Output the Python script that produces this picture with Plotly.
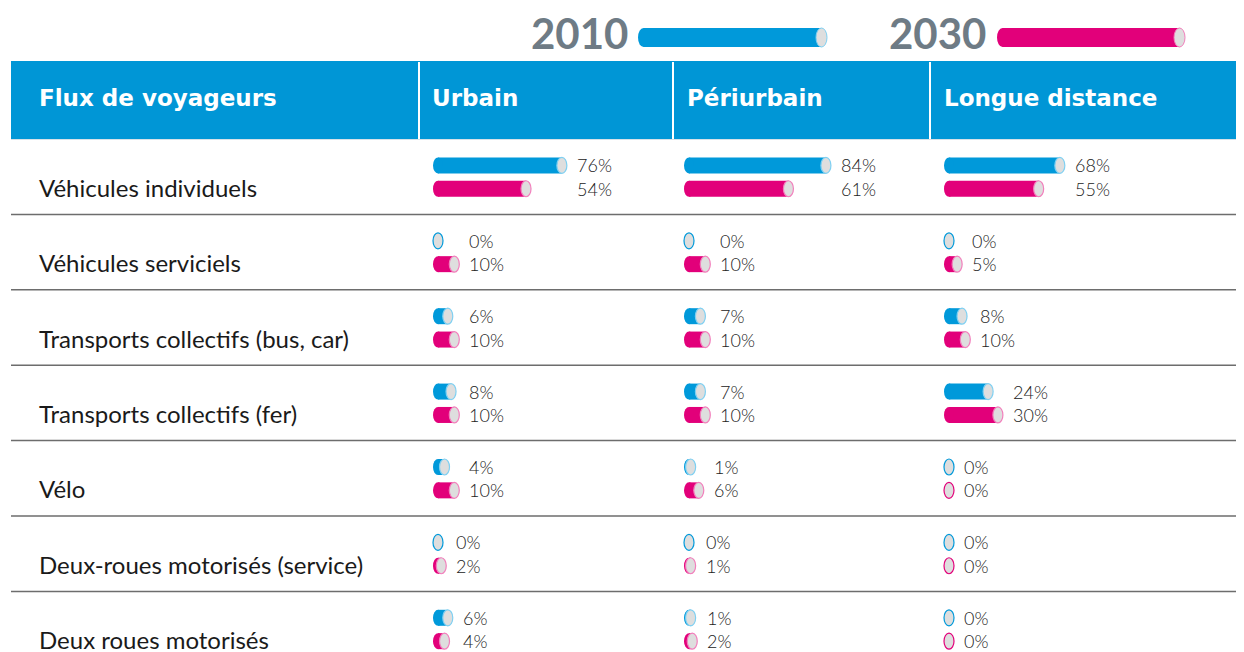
import plotly.graph_objects as go

# page body has an 8px margin, so the figure is drawn 8px smaller and shifted
PAGE_W, PAGE_H = 1244, 652
PAD = 8
W, H = PAGE_W - PAD, PAGE_H - PAD

# ---- data -------------------------------------------------------------
FLUX = [
    "Véhicules individuels",
    "Véhicules serviciels",
    "Transports collectifs (bus, car)",
    "Transports collectifs (fer)",
    "Vélo",
    "Deux-roues motorisés (service)",
    "Deux roues motorisés",
]
ZONES = ["Urbain", "Périurbain", "Longue distance"]
YEARS = ["2010", "2030"]

URBAIN_2010 = [76, 0, 6, 8, 4, 0, 6]
URBAIN_2030 = [54, 10, 10, 10, 10, 2, 4]
PERI_2010 = [84, 0, 7, 7, 1, 0, 1]
PERI_2030 = [61, 10, 10, 10, 6, 1, 2]
LONG_2010 = [68, 0, 8, 24, 0, 0, 0]
LONG_2030 = [55, 5, 10, 30, 0, 0, 0]

# ---- style ------------------------------------------------------------
BLUE = "#0099da"
BLUE_LIGHT = "#7fd0f2"
PINK = "#e2007a"
PINK_LIGHT = "#f27fbc"
HEAD = "#0096d6"
CAP = "#dedede"
GREY_TXT = "#6e7b85"
FONT = "Lato"
HEAD_FONT = "DejaVu Sans"

PX_PER_PCT = 1.63          # bar length scale
TABLE_TOP = 139            # px (page coords)
ROW_H = 75.4               # px
BAR_PX = 16                # bar thickness
CAP_W = 10                 # ellipse width
OFF = {"2010": 0.35, "2030": 0.66}
LABEL_OFF = 0.64
COL_LEFT = [421, 675, 932]
COL_RIGHT = [672, 929, 1244]
BAR_X0 = [438, 689, 949]


def px(x):
    return (x - PAD) / W


def py(y):
    return 1 - (y - PAD) / H


fig = go.Figure()
shapes = []
annotations = []

# header band
shapes.append(dict(type="rect", xref="paper", yref="paper", x0=px(11), x1=1,
                   y0=py(139), y1=py(61), fillcolor=HEAD, line_width=0, layer="below"))
for sx in [419, 673, 930]:
    shapes.append(dict(type="line", xref="paper", yref="paper", x0=px(sx), x1=px(sx),
                       y0=py(139), y1=py(62), line=dict(color="white", width=2)))
annotations.append(dict(text="<b>Flux de voyageurs</b>", x=px(37), y=py(98), xref="paper",
                        yref="paper", xanchor="left", yanchor="middle", showarrow=False,
                        font=dict(family=HEAD_FONT, size=23, color="white")))
for zx, z in zip([430, 685, 942], ZONES):
    annotations.append(dict(text=f"<b>{z}</b>", x=px(zx), y=py(98), xref="paper", yref="paper",
                            xanchor="left", yanchor="middle", showarrow=False,
                            font=dict(family=HEAD_FONT, size=23, color="white")))

# legend at top
for yr, tx, x0, x1, col, light in [("2010", 630, 638, 827, BLUE, BLUE_LIGHT),
                                   ("2030", 988, 997, 1185, PINK, PINK_LIGHT)]:
    annotations.append(dict(text=f"<b>{yr}</b>", x=px(tx), y=py(33), xref="paper", yref="paper",
                            xanchor="right", yanchor="middle", showarrow=False,
                            font=dict(family=FONT, size=42, color=GREY_TXT, weight=900)))
    yc, hh, cw = 37.5, 9.5, 11
    shapes.append(dict(type="circle", xref="paper", yref="paper", x0=px(x0), x1=px(x0 + cw),
                       y0=py(yc + hh), y1=py(yc - hh), fillcolor=col, line_width=0))
    shapes.append(dict(type="rect", xref="paper", yref="paper", x0=px(x0 + cw / 2), x1=px(x1 - cw / 2),
                       y0=py(yc + hh), y1=py(yc - hh), fillcolor=col, line_width=0))
    shapes.append(dict(type="circle", xref="paper", yref="paper", x0=px(x1 - cw), x1=px(x1),
                       y0=py(yc + hh), y1=py(yc - hh), fillcolor=CAP,
                       line=dict(color=light, width=1)))

# row separators and labels
n_rows = len(FLUX)
shapes.append(dict(type="line", xref="paper", yref="y", x0=px(11), x1=1, y0=0, y1=0,
                   line=dict(color="#c9d7e1", width=1.5)))
for k in range(1, n_rows):
    shapes.append(dict(type="line", xref="paper", yref="y", x0=px(11), x1=1, y0=k, y1=k,
                       line=dict(color="#6d6d6d", width=1.5)))
for i, lab in enumerate(FLUX):
    annotations.append(dict(text=lab, x=px(37), y=i + LABEL_OFF, xref="paper", yref="y",
                            xanchor="left", yanchor="middle", showarrow=False,
                            font=dict(family=FONT, size=24, color="#1a1a1a")))

# bars
series = [(URBAIN_2010, URBAIN_2030), (PERI_2010, PERI_2030), (LONG_2010, LONG_2030)]
bar_w = BAR_PX / ROW_H
for j, (v10, v30) in enumerate(series):
    xa = "x" if j == 0 else f"x{j + 1}"
    for yr, vals, col, light in [("2010", v10, BLUE, BLUE_LIGHT), ("2030", v30, PINK, PINK_LIGHT)]:
        ys = [i + OFF[yr] for i in range(n_rows)]
        fig.add_trace(go.Bar(x=vals, y=ys, base=0, orientation="h", width=bar_w,
                             marker=dict(color=col, line_width=0), xaxis=xa, yaxis="y",
                             showlegend=False, hoverinfo="skip", cliponaxis=False))
        for v, y in zip(vals, ys):
            if v > 0:
                shapes.append(dict(type="circle", xref=xa, yref="y", xsizemode="pixel",
                                   xanchor=0, x0=-CAP_W / 2, x1=CAP_W / 2, ysizemode="pixel",
                                   yanchor=y, y0=-BAR_PX / 2, y1=BAR_PX / 2,
                                   fillcolor=col, line_width=0))
            shapes.append(dict(type="circle", xref=xa, yref="y", xsizemode="pixel",
                               xanchor=v, x0=-CAP_W / 2, x1=CAP_W / 2, ysizemode="pixel",
                               yanchor=y, y0=-BAR_PX / 2, y1=BAR_PX / 2, fillcolor=CAP,
                               line=dict(color=col if v == 0 else light, width=1.2)))
    for i in range(n_rows):
        xm = max(v10[i], v30[i])
        for yr, v in [("2010", v10[i]), ("2030", v30[i])]:
            annotations.append(dict(text=f"{v}%", x=xm, y=i + OFF[yr], xref=xa, yref="y",
                                    xanchor="left", yanchor="middle", xshift=CAP_W / 2 + 8,
                                    showarrow=False,
                                    font=dict(family=FONT, size=18, color="#222222", weight=300)))

layout_axes = {}
for j in range(3):
    name = "xaxis" if j == 0 else f"xaxis{j + 1}"
    lo = -(BAR_X0[j] - COL_LEFT[j]) / PX_PER_PCT
    hi = (COL_RIGHT[j] - BAR_X0[j]) / PX_PER_PCT
    layout_axes[name] = dict(domain=[px(COL_LEFT[j]), min(1, px(COL_RIGHT[j]))], range=[lo, hi],
                             visible=False, fixedrange=True, anchor="y")

fig.update_layout(
    width=W, height=H,
    margin=dict(l=0, r=0, t=0, b=0),
    paper_bgcolor="white", plot_bgcolor="rgba(0,0,0,0)",
    barmode="overlay",
    hovermode=False,
    yaxis=dict(domain=[0, py(TABLE_TOP)], range=[(PAGE_H - TABLE_TOP) / ROW_H, 0],
               visible=False, fixedrange=True, anchor="x"),
    shapes=shapes,
    annotations=annotations,
    **layout_axes,
)

fig.write_html("out.html")
